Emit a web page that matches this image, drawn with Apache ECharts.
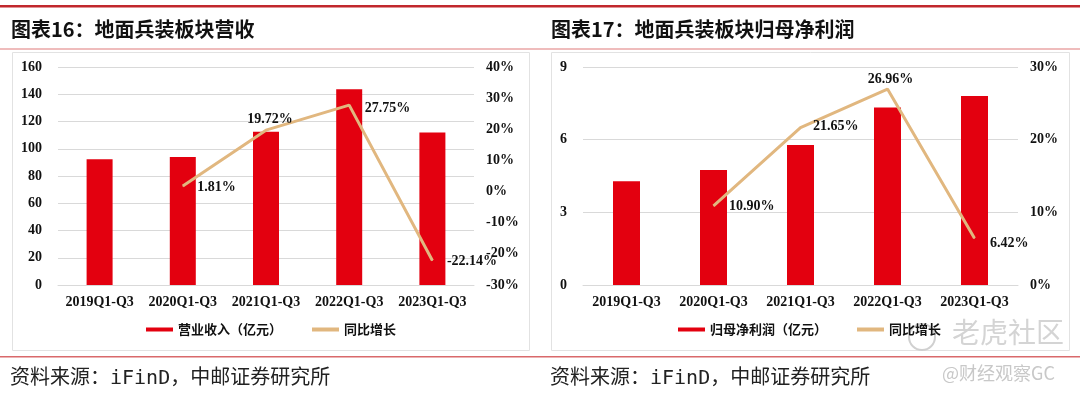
<!DOCTYPE html>
<html>
<head>
<meta charset="utf-8">
<script src="https://cdn.jsdelivr.net/npm/echarts@6/dist/echarts.min.js"></script>
<style>
html,body{margin:0;padding:0;background:#fff;}
#c{width:1080px;height:397px;}
</style>
</head>
<body>
<div id="c"></div>
<script>
// ---- data ----
const categories = ['2019Q1-Q3','2020Q1-Q3','2021Q1-Q3','2022Q1-Q3','2023Q1-Q3'];
const revenue = [92.3, 94.0, 112.5, 143.7, 111.9];          // 营业收入（亿元）
const revenueYoY = [null, 1.81, 19.72, 27.75, -22.14];       // 同比增长 %
const profit = [4.28, 4.75, 5.78, 7.33, 7.80];               // 归母净利润（亿元）
const profitYoY = [null, 10.90, 21.65, 26.96, 6.42];         // 同比增长 %
const leftTicksRevenue = {min:0, max:160, interval:20};
const rightTicksRevenue = {min:-30, max:40, interval:10};
const leftTicksProfit = {min:0, max:9, interval:3};
const rightTicksProfit = {min:0, max:30, interval:10};
const titles = ['图表16：地面兵装板块营收', '图表17：地面兵装板块归母净利润'];
const source = '资料来源：iFinD，中邮证券研究所';

// ---- styles ----
const RED = '#E3000F';
const TAN = '#E1B77F';
const GRID = '#D9D9D9';
const SERIF = 'Liberation Serif, Times New Roman, serif';
const CJK = 'Noto Sans CJK SC';
const axisLabel = {color:'#111', fontFamily:SERIF, fontWeight:'bold', fontSize:14};

const revLabelPos = [null, {position:'right', distance:14, offset:[0,1]}, {position:'top', distance:3, offset:[4,0]}, {position:'right', distance:15, offset:[0,3]}, {position:'right', distance:14, offset:[0,1]}];
const proLabelPos = [null, {position:'right', distance:15, offset:[0,1]}, {position:'right', distance:12, offset:[0,-1]}, {position:'top', distance:2, offset:[3,0]}, {position:'right', distance:15, offset:[0,5]}];

function lineData(vals, pos){
  return vals.map((v,i)=> v==null ? '-' : {value:v, label:Object.assign({show:true}, pos[i])});
}
const pctLabel = {show:true, color:'#111', fontFamily:SERIF, fontWeight:'bold', fontSize:14,
  formatter:p=>Number(p.value).toFixed(2)+'%'};

function yAxes(gi, lt, rt){
  return [
    {type:'value', gridIndex:gi, min:lt.min, max:lt.max, interval:lt.interval,
     axisLine:{show:false}, axisTick:{show:false}, axisLabel:Object.assign({margin:16}, axisLabel),
     splitLine:{lineStyle:{color:GRID, width:1}}},
    {type:'value', gridIndex:gi, position:'right', min:rt.min, max:rt.max, interval:rt.interval,
     axisLine:{show:false}, axisTick:{show:false},
     axisLabel:Object.assign({margin:12, formatter:'{value}%'}, axisLabel),
     splitLine:{show:false}}
  ];
}
function xAxis(gi){
  return {type:'category', gridIndex:gi, data:categories,
    axisLine:{lineStyle:{color:GRID}}, axisTick:{show:false},
    axisLabel:Object.assign({margin:10, interval:0}, axisLabel)};
}

const legendText = {fontFamily:CJK, fontWeight:'bold', fontSize:13, color:'#111'};

const lineCommon = {type:'line', symbol:'circle', symbolSize:1, showSymbol:true, showAllSymbol:true,
  lineStyle:{color:TAN, width:3}, itemStyle:{color:TAN}, label:pctLabel, z:5};

const option = {
  animation:false,
  backgroundColor:'#fff',
  grid:[
    {left:58, right:1080-474, top:67, bottom:397-285},
    {left:583, right:1080-1018, top:67, bottom:397-285}
  ],
  xAxis:[xAxis(0), xAxis(1)],
  yAxis:[...yAxes(0, leftTicksRevenue, rightTicksRevenue), ...yAxes(1, leftTicksProfit, rightTicksProfit)],
  legend:[
    {left:146, top:323, padding:0, itemWidth:27, itemHeight:4, itemGap:30, textStyle:legendText,
     data:[{name:'营业收入（亿元）', icon:'rect'}, {name:'同比增长', icon:'rect'}]},
    {left:678, top:323, padding:0, itemWidth:27, itemHeight:4, itemGap:30, textStyle:legendText,
     data:[{name:'归母净利润（亿元）', icon:'rect'}, {name:'同比增长', icon:'rect'}]}
  ],
  series:[
    {name:'营业收入（亿元）', type:'bar', xAxisIndex:0, yAxisIndex:0, data:revenue, barWidth:26,
     itemStyle:{color:RED}},
    Object.assign({name:'同比增长', xAxisIndex:0, yAxisIndex:1, data:lineData(revenueYoY, revLabelPos)}, lineCommon),
    {name:'归母净利润（亿元）', type:'bar', xAxisIndex:1, yAxisIndex:2, data:profit, barWidth:27,
     itemStyle:{color:RED}},
    Object.assign({name:'同比增长', xAxisIndex:1, yAxisIndex:3, data:lineData(profitYoY, proLabelPos)}, lineCommon)
  ],
  graphic:[
    {type:'rect', shape:{x:0, y:5, width:1080, height:2.5}, style:{fill:'#C1272D'}, silent:true},
    {type:'rect', shape:{x:0, y:48.5, width:1080, height:1}, style:{fill:'#E07A7A'}, silent:true},
    {type:'rect', shape:{x:0, y:356, width:1080, height:1.5}, style:{fill:'#D9696B'}, silent:true},
    {type:'rect', shape:{x:12.5, y:52.5, width:517, height:298}, style:{fill:'none', stroke:'#E2E2E2', lineWidth:1}, silent:true, z:-1},
    {type:'rect', shape:{x:551.5, y:52.5, width:518, height:298}, style:{fill:'none', stroke:'#E2E2E2', lineWidth:1}, silent:true, z:-1},
    {type:'text', left:11, top:19, style:{text:titles[0], font:'bold 20px "Noto Sans CJK SC"', fill:'#111'}},
    {type:'text', left:551, top:19, style:{text:titles[1], font:'bold 20px "Noto Sans CJK SC"', fill:'#111'}},
    {type:'text', left:10, top:369, style:{text:source, font:'20px "DejaVu Sans Mono", "Noto Sans CJK SC"', fill:'#222'}},
    {type:'text', left:550, top:369, style:{text:source, font:'20px "DejaVu Sans Mono", "Noto Sans CJK SC"', fill:'#222'}},
    // watermark
    {type:'circle', shape:{cx:922, cy:337, r:13}, style:{fill:'none', stroke:'#D0D0D0', lineWidth:2}, silent:true},
    {type:'text', left:952, top:318, style:{text:'老虎社区', font:'28px "Noto Sans CJK SC"', fill:'#D4D4D4'}, silent:true},
    {type:'text', left:942, top:364, style:{text:'@财经观察GC', font:'18px "Noto Sans CJK SC"', fill:'#C8C8C8'}, silent:true}
  ]
};
const chart = echarts.init(document.getElementById('c'));
chart.setOption(option);
</script>
</body>
</html>
